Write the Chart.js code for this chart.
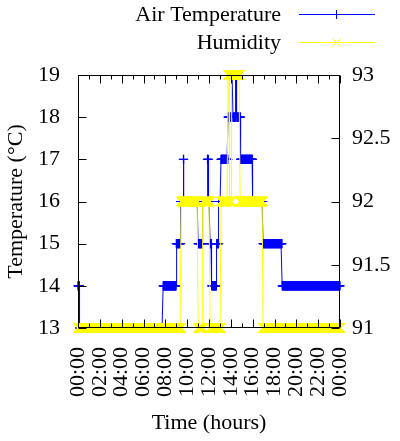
<!DOCTYPE html>
<html>
<head>
<meta charset="utf-8">
<script src="https://cdn.jsdelivr.net/npm/chart.js@4.4.1/dist/chart.umd.min.js"></script>
<style>
  html, body { margin: 0; padding: 0; background: #fff; }
  canvas { display: block; }
</style>
</head>
<body>
<canvas id="weatherChart" width="400" height="441"></canvas>
<script>
// --- Data (step readings: hour where a level starts, and the level) ---
const tempStartHours = [0, 0.15, 7.8, 9.0, 9.4, 9.65, 9.7, 11.0, 11.4, 11.85, 11.95, 12.1, 12.25, 12.7, 12.9, 13.1, 13.75, 14.1, 14.2, 14.45, 14.55, 14.9, 16.0, 16.95, 18.7];
const tempLevels     = [14, 13, 14, 15, 16, 17, 16, 15, 16, 17, 16, 15, 14, 15, 16, 17, 18, 19, 18, 19, 18, 17, 16, 15, 14];
const humStartHours  = [0, 9.45, 11.0, 11.45, 12.1, 13.1, 13.75, 13.9, 14.05, 14.85, 16.95];
const humLevels      = [91, 92, 91, 92, 91, 92, 93, 92, 93, 92, 91];
const sampleMinutes  = 1;

const xTickHours  = [0, 2, 4, 6, 8, 10, 12, 14, 16, 18, 20, 22, 24];
const xTickLabels = ['00:00', '02:00', '04:00', '06:00', '08:00', '10:00', '12:00', '14:00', '16:00', '18:00', '20:00', '22:00', '00:00'];
const xMinorHours = [1, 3, 5, 7, 9, 11, 13, 15, 17, 19, 21, 23];
const tempTicks   = [13, 14, 15, 16, 17, 18, 19];
const humTicks    = [91, 91.5, 92, 92.5, 93];

const FONT = '"Liberation Serif", "Times New Roman", serif';
const BLUE = 'rgb(0,0,255)';
const YELLOW = 'rgb(255,255,0)';

// one reading every sampleMinutes, holding the level of the current step
const readings = (starts, levels) => {
    const out = [];
    for (let m = 0; m <= 24 * 60; m += sampleMinutes) {
        const h = m / 60;
        let k = 0;
        while (k + 1 < starts.length && starts[k + 1] <= h) k++;
        out.push({ x: h, y: levels[k] });
    }
    return out;
};

// --- frame + inward tick marks ---
const framePlugin = {
    id: 'frame',
    afterDatasetsDraw(chart) {
        const { ctx, chartArea: a, scales } = chart;
        const L = Math.round(a.left) + 0.5, R = Math.round(a.right) - 0.5;
        const T = Math.round(a.top) + 0.5, B = Math.round(a.bottom) - 0.5;
        ctx.save();
        ctx.strokeStyle = '#000';
        ctx.lineWidth = 1;
        ctx.beginPath();
        ctx.rect(L, T, R - L, B - T);
        const px = v => Math.round(scales.x.getPixelForValue(v)) + 0.5;
        xTickHours.forEach(v => { ctx.moveTo(px(v), B); ctx.lineTo(px(v), B - 8); ctx.moveTo(px(v), T); ctx.lineTo(px(v), T + 8); });
        xMinorHours.forEach(v => { ctx.moveTo(px(v), B); ctx.lineTo(px(v), B - 4); ctx.moveTo(px(v), T); ctx.lineTo(px(v), T + 4); });
        tempTicks.forEach(v => { const p = Math.round(scales.y.getPixelForValue(v)) + 0.5; ctx.moveTo(L, p); ctx.lineTo(L + 8, p); });
        humTicks.forEach(v => { const p = Math.round(scales.y2.getPixelForValue(v)) + 0.5; ctx.moveTo(R, p); ctx.lineTo(R - 8, p); });
        ctx.stroke();
        ctx.restore();
    }
};

// --- legend, gnuplot style (text then line sample) ---
const legendPlugin = {
    id: 'keyBox',
    afterDraw(chart) {
        const { ctx } = chart;
        const rows = [
            { text: 'Air Temperature', color: BLUE, style: 'cross', r: 4.5, y: 14 },
            { text: 'Humidity', color: YELLOW, style: 'crossRot', r: 6, y: 42 }
        ];
        ctx.save();
        ctx.font = '22px ' + FONT;
        ctx.textAlign = 'right';
        ctx.textBaseline = 'alphabetic';
        rows.forEach(row => {
            ctx.fillStyle = '#000';
            ctx.fillText(row.text, 281, row.y + 7);
            ctx.strokeStyle = row.color;
            ctx.lineWidth = 1;
            ctx.beginPath();
            ctx.moveTo(299, row.y + 0.5);
            ctx.lineTo(375, row.y + 0.5);
            ctx.stroke();
            Chart.helpers.drawPoint(ctx, { pointStyle: row.style, radius: row.r, borderWidth: 1 }, 336.5, row.y + 0.5);
        });
        ctx.restore();
    }
};

const tickFont = { family: FONT, size: 22 };

new Chart(document.getElementById('weatherChart'), {
    type: 'line',
    data: {
        datasets: [{
            label: 'Air Temperature',
            data: readings(tempStartHours, tempLevels),
            yAxisID: 'y',
            borderColor: BLUE,
            backgroundColor: BLUE,
            borderWidth: 1,
            pointStyle: 'cross',
            pointRadius: 4.5,
            pointBorderWidth: 1,
            pointBorderColor: BLUE,
            tension: 0,
            clip: false,
            order: 1
        }, {
            label: 'Humidity',
            data: readings(humStartHours, humLevels),
            yAxisID: 'y2',
            borderColor: YELLOW,
            backgroundColor: YELLOW,
            borderWidth: 1,
            pointStyle: 'crossRot',
            pointRadius: 6.5,
            pointBorderWidth: 1.2,
            pointBorderColor: YELLOW,
            tension: 0,
            clip: false,
            order: 0
        }]
    },
    options: {
        responsive: false,
        animation: false,
        events: [],
        parsing: false,
        layout: { padding: { top: 75, left: 0, right: 0, bottom: 0 } },
        plugins: { legend: { display: false }, tooltip: { enabled: false } },
        scales: {
            x: {
                type: 'linear',
                min: 0,
                max: 24,
                afterBuildTicks: s => { s.ticks = xTickHours.map(v => ({ value: v })); },
                afterFit: s => { s.height = 113; },
                grid: { display: false, drawTicks: false, tickLength: 0 },
                border: { display: false },
                ticks: {
                    autoSkip: false,
                    maxRotation: 90,
                    minRotation: 90,
                    padding: 19,
                    color: '#000',
                    font: tickFont,
                    callback: (v, i) => xTickLabels[i]
                },
                title: { display: true, text: 'Time (hours)', color: '#000', font: tickFont, padding: { top: 0, bottom: 5 } }
            },
            y: {
                position: 'left',
                min: 13,
                max: 19,
                afterBuildTicks: s => { s.ticks = tempTicks.map(v => ({ value: v })); },
                afterFit: s => { s.width = 78; },
                grid: { display: false, drawTicks: false, tickLength: 0 },
                border: { display: false },
                ticks: { padding: 18, color: '#000', font: tickFont, callback: v => String(v) },
                title: { display: true, text: 'Temperature (°C)', color: '#000', font: tickFont, padding: { top: 3, bottom: 0 } }
            },
            y2: {
                position: 'right',
                min: 91,
                max: 93,
                afterBuildTicks: s => { s.ticks = humTicks.map(v => ({ value: v })); },
                afterFit: s => { s.width = 60; },
                grid: { display: false, drawTicks: false, tickLength: 0 },
                border: { display: false },
                ticks: { padding: 12, color: '#000', font: tickFont, callback: v => String(v) }
            }
        }
    },
    plugins: [framePlugin, legendPlugin]
});
</script>
</body>
</html>
